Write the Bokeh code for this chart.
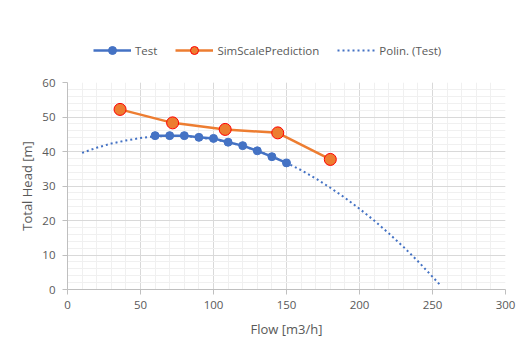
from bokeh.plotting import figure
from bokeh.models import Range1d, SingleIntervalTicker, Legend, LegendItem
from bokeh.layouts import column
from bokeh.embed import file_html
from bokeh.resources import INLINE

# Data
test_flow = [60, 70, 80, 90, 100, 110, 120, 130, 140, 150]
test_head = [44.6, 44.6, 44.6, 44.1, 43.8, 42.7, 41.7, 40.2, 38.5, 36.7]

sim_flow = [36, 72, 108, 144, 180]
sim_head = [52.2, 48.3, 46.4, 45.4, 37.7]

poly_flow = [10, 20, 30, 40, 50, 60, 70, 80, 90, 100, 110, 120, 130, 140, 150,
             160, 170, 180, 190, 200, 210, 220, 230, 240, 250, 255]
poly_head = [39.6, 41.1, 42.3, 43.2, 43.9, 44.4, 44.5, 44.5, 44.1, 43.5, 42.7, 41.6,
             40.2, 38.6, 36.7, 34.6, 32.2, 29.5, 26.6, 23.4, 20.0, 16.3, 12.4, 8.2, 3.7, 1.4]

series_names = ["Test", "SimScalePrediction", "Polin. (Test)"]

FONT = "Open Sans"
GREY = "#595959"
BLUE = "#4472C4"
ORANGE = "#ED7D31"

# ---- main chart ----
p = figure(width=522, height=280, output_backend="svg", toolbar_location=None,
           x_range=Range1d(0, 300), y_range=Range1d(0, 60),
           frame_width=438, frame_height=207)
p.min_border_left = 67
p.min_border_right = 17
p.min_border_top = 10
p.min_border_bottom = 63
p.outline_line_color = None
p.background_fill_color = "white"
p.border_fill_color = "white"

p.xaxis.ticker = SingleIntervalTicker(interval=50, num_minor_ticks=5)
p.yaxis.ticker = SingleIntervalTicker(interval=10, num_minor_ticks=5)
for ax in (p.xaxis[0], p.yaxis[0]):
    ax.axis_line_color = "#bfbfbf"
    ax.major_tick_line_color = "#bfbfbf"
    ax.major_tick_in = 0
    ax.major_tick_out = 5
    ax.minor_tick_line_color = None
    ax.major_label_text_font = FONT
    ax.major_label_text_font_size = "11.5px"
    ax.major_label_text_color = GREY
    ax.axis_label_text_font = FONT
    ax.axis_label_text_font_size = "13px"
    ax.axis_label_text_color = GREY
    ax.axis_label_text_font_style = "normal"
p.xaxis.axis_label = "Flow [m3/h]"
p.yaxis.axis_label = "Total Head [m]"
p.xaxis.major_label_standoff = 6
p.yaxis.major_label_standoff = 7
p.xaxis.axis_label_standoff = 8
p.yaxis.axis_label_standoff = 3

for g in (p.xgrid[0], p.ygrid[0]):
    g.grid_line_color = "#d9d9d9"
    g.minor_grid_line_color = "#f0f0f0"

POLY_STYLE = dict(line_color=BLUE, line_width=2, line_dash="2 3")
TEST_LINE = dict(line_color=BLUE, line_width=2.5)
TEST_MARK = dict(size=8, fill_color=BLUE, line_color=BLUE)
SIM_LINE = dict(line_color=ORANGE, line_width=2.5)
SIM_MARK = dict(size=12, fill_color=ORANGE, line_color="#FF0000", line_width=1)

p.line(poly_flow, poly_head, **POLY_STYLE)
p.line(test_flow, test_head, **TEST_LINE)
p.scatter(test_flow, test_head, **TEST_MARK)
p.line(sim_flow, sim_head, **SIM_LINE)
p.scatter(sim_flow, sim_head, **SIM_MARK)

# ---- legend strip above the chart (frames are aligned with the chart) ----
lg = figure(width=522, height=72, output_backend="svg", toolbar_location=None,
            x_range=Range1d(0, 1), y_range=Range1d(0, 1))
lg.min_border = 0
lg.axis.visible = False
lg.grid.visible = False
lg.outline_line_color = None
lg.border_fill_color = "white"
lg.background_fill_color = "white"

# proxy renderers (placed outside the visible range) that only feed the legend
off = [-5]
l1 = lg.line(off, off, **TEST_LINE)
m1 = lg.scatter(off, off, **TEST_MARK)
l2 = lg.line(off, off, **SIM_LINE)
m2 = lg.scatter(off, off, **SIM_MARK)
l3 = lg.line(off, off, **POLY_STYLE)

legend = Legend(items=[
    LegendItem(label=series_names[0], renderers=[l1, m1], index=0),
    LegendItem(label=series_names[1], renderers=[l2, m2], index=0),
    LegendItem(label=series_names[2], renderers=[l3], index=0),
], orientation="horizontal", location=(26, 12))
legend.label_text_font = FONT
legend.label_text_font_size = "11.5px"
legend.label_text_color = GREY
legend.glyph_width = 38
legend.glyph_height = 20
legend.label_height = 20
legend.spacing = 18
legend.label_standoff = 4
legend.border_line_color = None
legend.background_fill_alpha = 0
legend.margin = 0
legend.padding = 0
lg.add_layout(legend, "center")

layout = column(lg, p, spacing=0)
open("out.html", "w").write(file_html(layout, INLINE))
